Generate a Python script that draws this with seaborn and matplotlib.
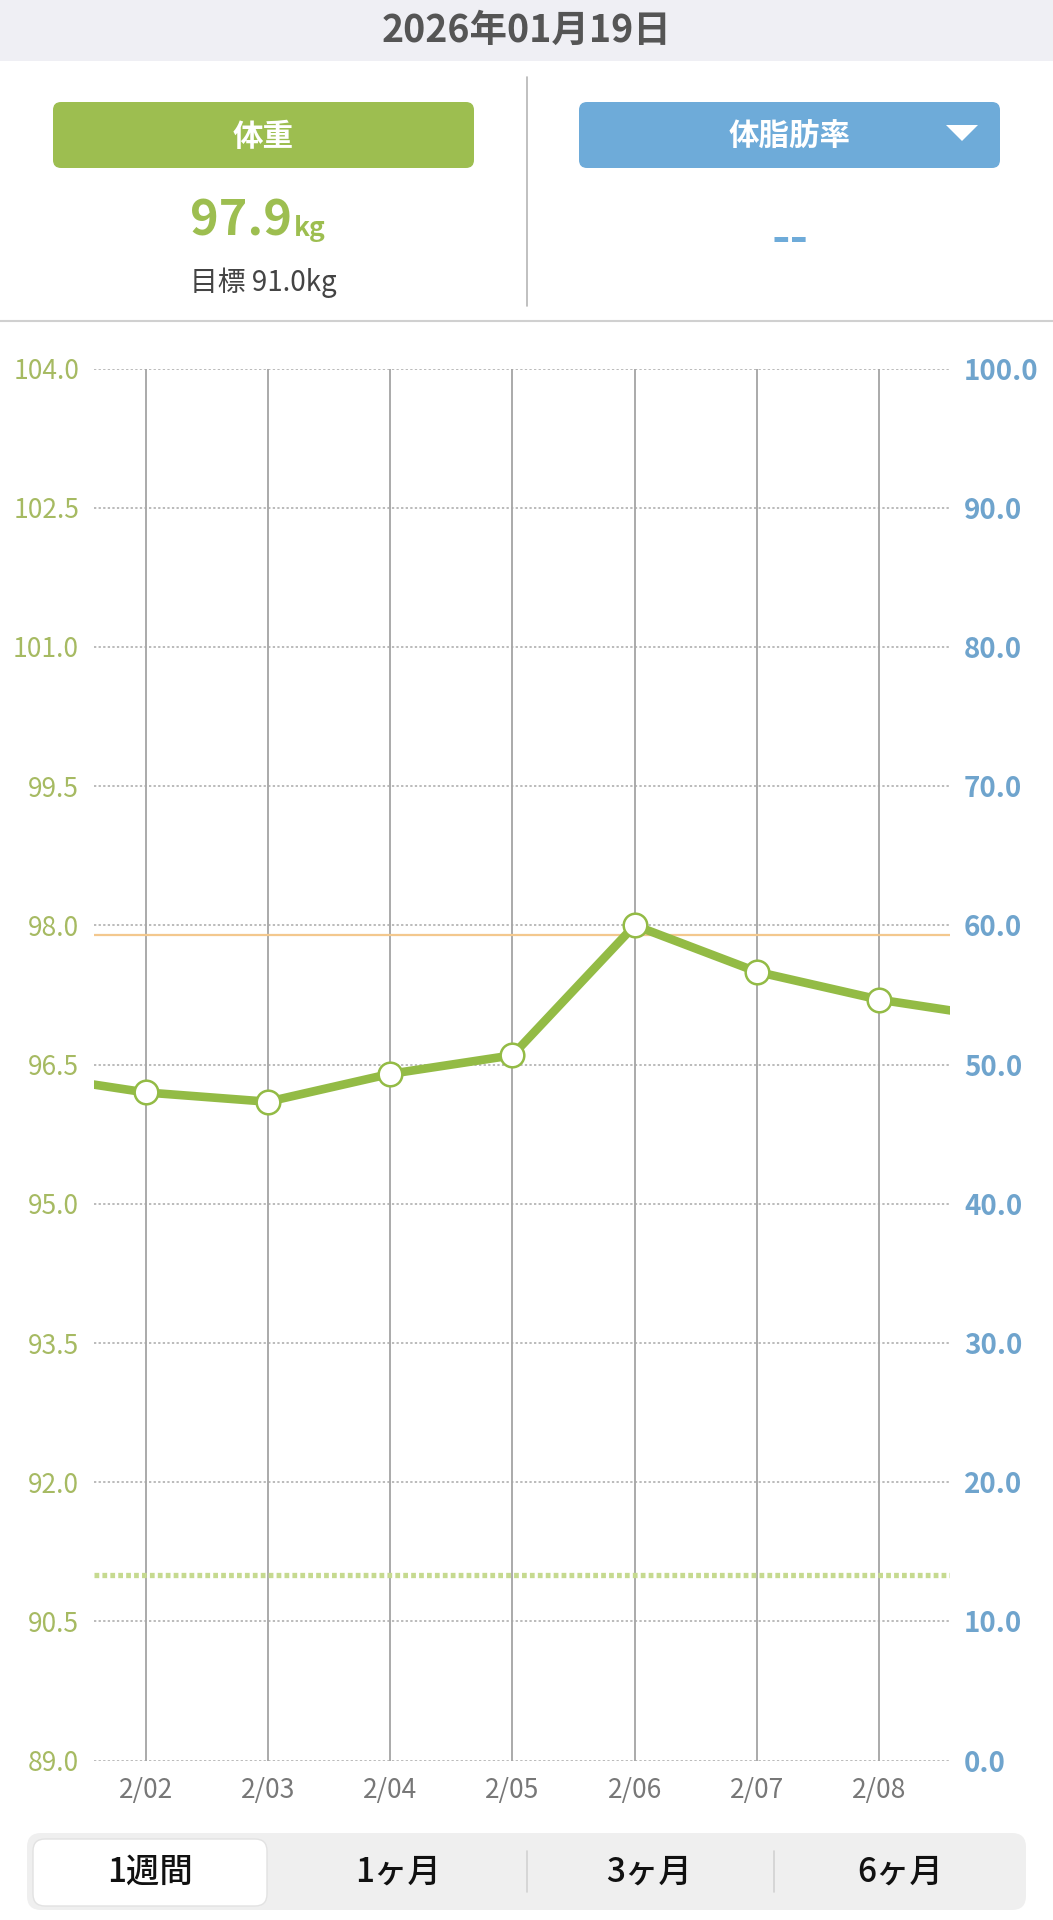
"""
Weight trend screen (1 week view) recreated with seaborn / matplotlib.

Outputs:
    out.png
"""

import numpy as np
import pandas as pd
import seaborn as sns
import matplotlib.pyplot as plt
from matplotlib.patches import FancyBboxPatch, Polygon, Rectangle


# ---------------------------------------------------------------------
# Data
# ---------------------------------------------------------------------

DAYS = ["2/01", "2/02", "2/03", "2/04", "2/05", "2/06", "2/07", "2/08", "2/09"]
WEIGHTS = [96.4, 96.2, 96.1, 96.4, 96.6, 98.0, 97.5, 97.2, 97.0]
VISIBLE_DAYS = DAYS[1:8]

CURRENT_WEIGHT = 97.9
GOAL_WEIGHT = 91.0

WEIGHT_TICKS = [89.0, 90.5, 92.0, 93.5, 95.0, 96.5, 98.0, 99.5, 101.0, 102.5, 104.0]
FAT_TICKS = [0.0, 10.0, 20.0, 30.0, 40.0, 50.0, 60.0, 70.0, 80.0, 90.0, 100.0]

HEADER_DATE = "2026年01月19日"
PERIODS = ["1週間", "1ヶ月", "3ヶ月", "6ヶ月"]

# ---------------------------------------------------------------------
# Style
# ---------------------------------------------------------------------

W, H = 1053, 1920
GREEN = "#9dbe50"
LINE_GREEN = "#93bb45"
BLUE = "#6eabd9"
LEFT_TICK = "#a6ba62"
RIGHT_TICK = "#6fa4cd"
GRID = "#a8a8a8"
VLINE = "#9c9c9c"

sns.set_style("white")
plt.rcParams["font.family"] = ["Noto Sans CJK JP", "DejaVu Sans"]


def main():
    fig = plt.figure(figsize=(W / 100, H / 100), dpi=100)

    # background layer in pixel coordinates
    bg = fig.add_axes([0, 0, 1, 1], zorder=0)
    bg.set_xlim(0, W)
    bg.set_ylim(H, 0)
    bg.axis("off")

    bg.add_patch(Rectangle((0, 0), W, 61, color="#efeff4", lw=0))
    bg.text(W / 2, 30, HEADER_DATE, ha="center", va="center",
            fontsize=27, color="#555555", fontweight="bold")

    bg.plot([526.5, 526.5], [77, 306], color="#b5b5b5", lw=1.2)
    bg.plot([0, W], [321, 321], color="#d0d0d0", lw=1.5)

    for x0, color, label in [(53, GREEN, "体重"), (579, BLUE, "体脂肪率")]:
        bg.add_patch(FancyBboxPatch(
            (x0, 102), 421, 66,
            boxstyle="round,pad=0,rounding_size=8",
            fc=color, ec="none",
        ))
        bg.text(x0 + 210.5, 137, label, ha="center", va="center",
                fontsize=22, color="white", fontweight="bold")

    bg.add_patch(Polygon([[946, 125], [978, 125], [962, 141]],
                         closed=True, fc="white", ec="none"))

    bg.text(292, 221, f"{CURRENT_WEIGHT:.1f}", ha="right", va="center",
            fontsize=35, color=GREEN, fontweight="bold")
    bg.text(294, 229, "kg", ha="left", va="center",
            fontsize=19, color=GREEN, fontweight="bold")
    bg.text(263, 283, f"目標 {GOAL_WEIGHT:.1f}kg", ha="center", va="center",
            fontsize=20, color="#444444")
    bg.text(790, 240, "--", ha="center", va="center",
            fontsize=36, color=BLUE, fontweight="bold")

    # period selector
    bg.add_patch(FancyBboxPatch(
        (27, 1833), 999, 77,
        boxstyle="round,pad=0,rounding_size=14",
        fc="#efefef", ec="none",
    ))
    bg.add_patch(FancyBboxPatch(
        (33, 1839), 234, 67,
        boxstyle="round,pad=0,rounding_size=12",
        fc="white", ec="#e2e2e2", lw=1,
    ))
    for x in [526.5, 774]:
        bg.plot([x, x], [1851, 1892], color="#d2d2d2", lw=1.2)
    for x, label in zip([150, 398, 649, 900], PERIODS):
        bg.text(x, 1872, label, ha="center", va="center",
                fontsize=24, color="#111111", fontweight="medium")

    # chart
    ax = fig.add_axes([94.3 / W, 1 - 1760.7 / H, 855.8 / W, 1392.2 / H],
                      zorder=2)
    ax.patch.set_alpha(0)

    df = pd.DataFrame({"pos": np.arange(len(DAYS)), "weight": WEIGHTS})

    ax.axhline(CURRENT_WEIGHT, color="#f3c88e", lw=1.6, zorder=2)
    ax.axhline(GOAL_WEIGHT, color="#c6da90", lw=3.8,
               ls=(0, (0.9, 0.6)), zorder=2)

    sns.lineplot(
        data=df, x="pos", y="weight", ax=ax,
        color=LINE_GREEN, lw=6.2,
        marker="o", markersize=17,
        markerfacecolor="white", markeredgecolor=LINE_GREEN,
        markeredgewidth=1.8, zorder=4,
    )

    ax.set_xlim(0.58, 7.58)
    ax.set_ylim(WEIGHT_TICKS[0], WEIGHT_TICKS[-1])
    ax.set_xticks(range(1, 8))
    ax.set_xticklabels(VISIBLE_DAYS)
    ax.set_yticks(WEIGHT_TICKS)
    ax.set_yticklabels([f"{v:.1f}" for v in WEIGHT_TICKS])
    ax.set_xlabel("")
    ax.set_ylabel("")

    ax.grid(axis="y", color=GRID, lw=1.1, ls=(0, (1.5, 1.5)))
    ax.grid(axis="x", color=VLINE, lw=1.2, ls="-")
    ax.set_axisbelow(True)
    for spine in ax.spines.values():
        spine.set_visible(False)

    ax.tick_params(axis="y", length=0, pad=11, labelsize=19,
                   labelcolor=LEFT_TICK)
    ax.tick_params(axis="x", length=0, pad=12, labelsize=19,
                   labelcolor="#777777")

    ax2 = ax.twinx()
    ax2.set_ylim(FAT_TICKS[0], FAT_TICKS[-1])
    ax2.set_yticks(FAT_TICKS)
    ax2.set_yticklabels([f"{v:.1f}" for v in FAT_TICKS])
    ax2.tick_params(axis="y", length=0, pad=10, labelsize=20,
                    labelcolor=RIGHT_TICK)
    for label in ax2.get_yticklabels():
        label.set_fontweight("bold")
    for spine in ax2.spines.values():
        spine.set_visible(False)
    ax2.grid(False)

    fig.savefig("out.png", dpi=100)
    plt.close(fig)


if __name__ == "__main__":
    main()
